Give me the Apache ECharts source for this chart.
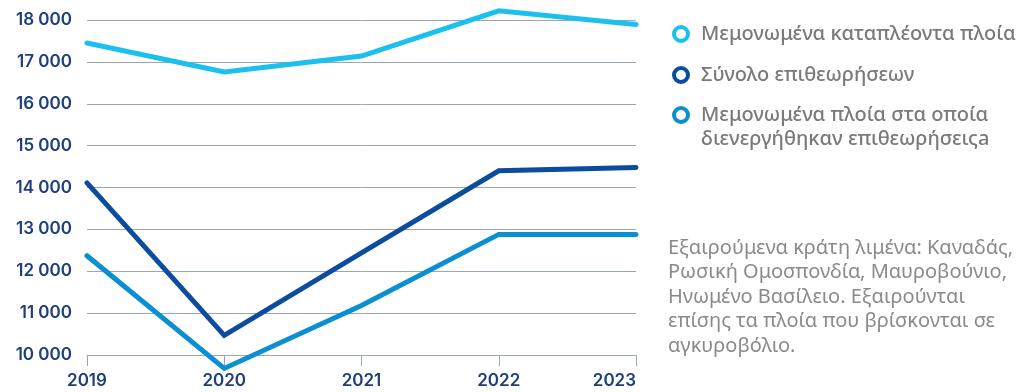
<!DOCTYPE html>
<html>
<head>
<meta charset="utf-8">
<script src="https://cdn.jsdelivr.net/npm/echarts@6/dist/echarts.min.js"></script>
<style>
  html, body { margin: 0; padding: 0; background: #fff; }
  #demo { width: 1018px; height: 392px; }
</style>
</head>
<body>
<div id="demo"></div>
<script>
// 数据区
var years = ['2019', '2020', '2021', '2022', '2023'];
var arrivals = [17450, 16760, 17140, 18220, 17890];      // Μεμονωμένα καταπλέοντα πλοία
var inspections = [14110, 10470, 12440, 14400, 14480];   // Σύνολο επιθεωρήσεων
var inspectedShips = [12370, 9680, 11180, 12880, 12880]; // Μεμονωμένα πλοία ... επιθεωρήσεις
var seriesNames = [
    'Μεμονωμένα καταπλέοντα πλοία',
    'Σύνολο επιθεωρήσεων',
    'Μεμονωμένα πλοία στα οποία\nδιενεργήθηκαν επιθεωρήσειςa'
];
var noteLines = [
    'Εξαιρούμενα κράτη λιμένα: Καναδάς,',
    'Ρωσική Ομοσπονδία, Μαυροβούνιο,',
    'Ηνωμένο Βασίλειο. Εξαιρούνται',
    'επίσης τα πλοία που βρίσκονται σε',
    'αγκυροβόλιο.'
];
var colors = ['#1cc0ef', '#0b4c9f', '#0b8fd3'];

var myChart = echarts.init(document.getElementById('demo'));

function lineSeries(name, data, color) {
    return {
        name: name,
        type: 'line',
        data: data,
        symbol: 'emptyCircle',
        showSymbol: false,
        clip: false,
        silent: true,
        lineStyle: { color: color, width: 5, cap: 'round', join: 'miter' },
        itemStyle: { color: color }
    };
}

function legendItem(i) {
    return {
        name: seriesNames[i],
        itemStyle: { color: '#fff', borderColor: colors[i], borderWidth: 4 }
    };
}

var legendBase = {
    orient: 'vertical',
    left: 672,
    padding: 0,
    itemGap: 17,
    itemWidth: 14,
    itemHeight: 14,
    icon: 'circle',
    selectedMode: false,
    textStyle: {
        color: '#7a7a7a', fontSize: 20, fontWeight: 500, lineHeight: 24,
        fontFamily: 'Noto Sans', padding: [0, 0, 0, 8]
    }
};

var option = {
    animation: false,
    textStyle: { fontFamily: 'Noto Sans' },
    grid: { left: 87, right: 382, top: 20, bottom: 37 },
    legend: [
        echarts.util.merge({ top: 22, data: [legendItem(0), legendItem(1)] }, legendBase),
        // 两行图例：前面加空行，使图标对齐第一行
        echarts.util.merge({
            top: 79,
            data: [legendItem(2)],
            formatter: function (name) { return '\n' + name; }
        }, legendBase)
    ],
    xAxis: {
        type: 'category',
        data: years,
        boundaryGap: false,
        axisLine: { show: true, lineStyle: { color: '#9aa6b2', width: 1 } },
        axisTick: { show: true, length: 11, alignWithLabel: true, lineStyle: { color: '#9aa6b2' } },
        axisLabel: {
            color: '#1e3f7c', fontSize: 17, fontWeight: 600, margin: 17,
            fontFamily: 'Inter', alignMaxLabel: 'right'
        }
    },
    yAxis: {
        type: 'value',
        min: 10000,
        max: 18000,
        interval: 1000,
        axisLine: { show: false },
        axisTick: { show: false },
        splitLine: { lineStyle: { color: '#9aa6b2', width: 1 } },
        axisLabel: {
            color: '#1e3f7c', fontSize: 17, fontWeight: 600, margin: 15,
            fontFamily: 'Inter',
            formatter: function (v) {
                return String(v).replace(/\B(?=(\d{3})+(?!\d))/g, ' ');
            }
        }
    },
    graphic: [{
        type: 'text',
        left: 668,
        top: 236,
        style: {
            text: noteLines.join('\n'),
            fill: '#8a8a8a',
            font: '20px "Noto Sans"',
            lineHeight: 24.5
        }
    }],
    series: [
        lineSeries(seriesNames[0], arrivals, colors[0]),
        lineSeries(seriesNames[1], inspections, colors[1]),
        lineSeries(seriesNames[2], inspectedShips, colors[2])
    ]
};
myChart.setOption(option);
</script>
</body>
</html>
